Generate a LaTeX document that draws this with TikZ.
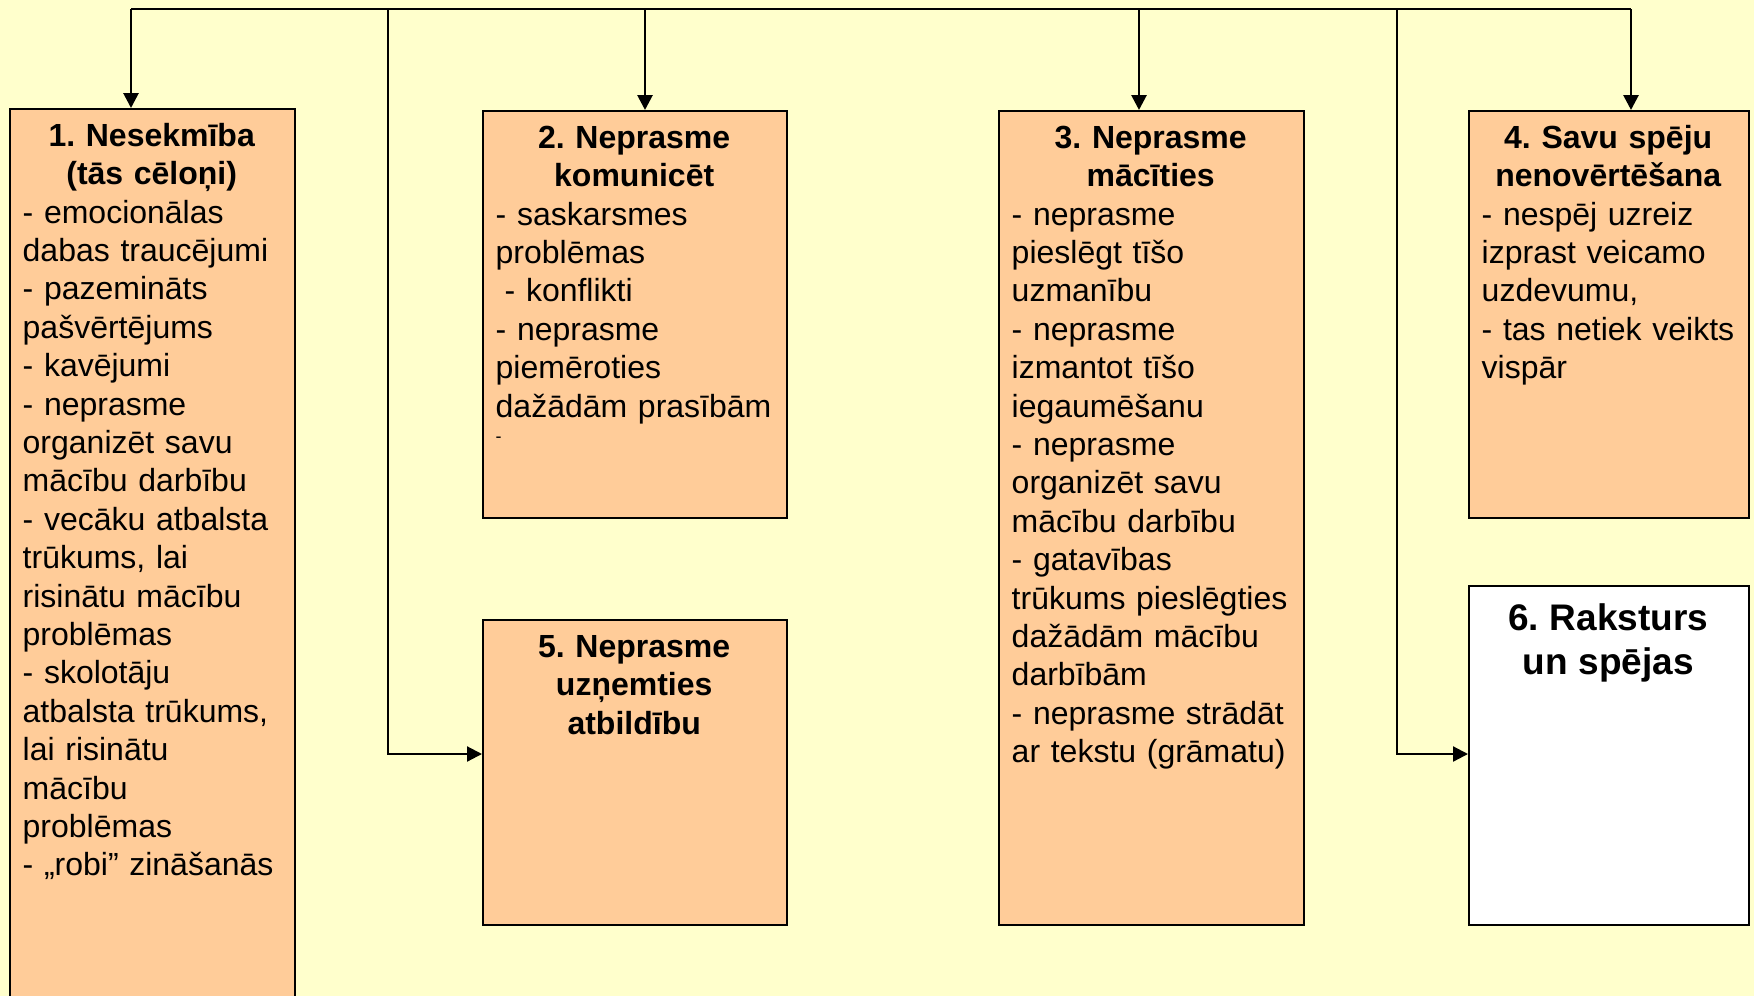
\documentclass[tikz,border=0pt]{standalone}
\usepackage{fontspec}
\setmainfont{Liberation Sans}
\usetikzlibrary{arrows.meta}
\definecolor{bgc}{HTML}{FFFFCC}
\definecolor{boxc}{HTML}{FFCC99}
\setlength{\parindent}{0pt}
\frenchspacing
\newcommand\boxtitle[1]{{\centering\bfseries\rule{0pt}{30pt}#1\par}}
\newcommand\bigtitle[1]{{\centering\bfseries\fontsize{37}{44.4}\selectfont\rule{0pt}{34pt}#1\par}}
\newcommand\bodyfont{\fontsize{32}{38.4}\selectfont}
\begin{document}
\begin{tikzpicture}[x=1pt,y=-1pt,
  box/.style={draw=black,line width=2pt,fill=boxc,rectangle,anchor=north west,inner sep=0pt},
  whitebox/.style={box,fill=white},
  txt/.style={anchor=north west,inner sep=0pt,font=\bodyfont},
  conn/.style={line width=2pt},
  arr/.style={line width=2.8pt,-{Triangle[length=15pt,width=15pt]}},
  feed/.style={line width=2.2pt,-{Triangle[length=15pt,width=15pt]}}]
\useasboundingbox (0,0) rectangle (1754,996);
\fill[bgc] (0,0) rectangle (1754,996);

% boxes
\node[box,minimum width=285pt,minimum height=900pt] (b1) at (9,108) {};
\node[box,minimum width=304pt,minimum height=407pt] (b2) at (482,110) {};
\node[box,minimum width=304pt,minimum height=305pt] (b5) at (482,619) {};
\node[box,minimum width=305pt,minimum height=814pt] (b3) at (998,110) {};
\node[box,minimum width=280pt,minimum height=407pt] (b4) at (1468,110) {};
\node[whitebox,minimum width=280pt,minimum height=339pt] (b6) at (1468,585) {};

% texts
\node[txt,text width=258pt] (t1) at ([shift={(13.5,8)}]b1.north west) {%
\boxtitle{1. Nesekmība\\(tās cēloņi)}%
\raggedright
- emocionālas\\
dabas traucējumi\\
- pazemināts\\
pašvērtējums\\
- kavējumi\\
- neprasme\\
organizēt savu\\
mācību darbību\\
- vecāku atbalsta\\
trūkums, lai\\
risinātu mācību\\
problēmas\\
- skolotāju\\
atbalsta trūkums,\\
lai risinātu\\
mācību\\
problēmas\\
- „robi” zināšanās\par};

\node[txt,text width=277pt] (t2) at ([shift={(13.5,8)}]b2.north west) {%
\boxtitle{2. Neprasme\\komunicēt}%
\raggedright
- saskarsmes\\
problēmas\\
\hspace*{9pt}- konflikti\\
- neprasme\\
piemēroties\\
dažādām prasībām\par
{\fontsize{18}{25}\selectfont -\par}};

\node[txt,text width=277pt] (t5) at ([shift={(13.5,8)}]b5.north west) {%
\boxtitle{5. Neprasme\\uzņemties\\atbildību}};

\node[txt,text width=278pt] (t3) at ([shift={(13.5,8)}]b3.north west) {%
\boxtitle{3. Neprasme\\mācīties}%
\raggedright
- neprasme\\
pieslēgt tīšo\\
uzmanību\\
- neprasme\\
izmantot tīšo\\
iegaumēšanu\\
- neprasme\\
organizēt savu\\
mācību darbību\\
- gatavības\\
trūkums pieslēgties\\
dažādām mācību\\
darbībām\\
- neprasme strādāt\\
ar tekstu (grāmatu)\par};

\node[txt,text width=253pt] (t4) at ([shift={(13.5,8)}]b4.north west) {%
\boxtitle{4. Savu spēju\\nenovērtēšana}%
\raggedright
- nespēj uzreiz\\
izprast veicamo\\
uzdevumu,\\
- tas netiek veikts\\
vispār\par};

\node[txt,text width=253pt] (t6) at ([shift={(13.5,11)}]b6.north west) {%
\bigtitle{6. Raksturs\\un spējas}};

% connectors
\coordinate (j1) at (131,9);
\coordinate (j2) at (645,9);
\coordinate (j3) at (1139,9);
\coordinate (j4) at (1631,9);
\coordinate (k5) at (388,9);
\coordinate (k6) at (1397,9);
\coordinate (m5) at (388,754);
\coordinate (m6) at (1397,754);

\draw[conn] (j1) -- (j4);
\draw[arr] (j1) -- (j1 |- b1.north);
\draw[arr] (j2) -- (j2 |- b2.north);
\draw[arr] (j3) -- (j3 |- b3.north);
\draw[arr] (j4) -- (j4 |- b4.north);
\draw[feed] (k5) -- (m5) -- (m5 -| b5.west);
\draw[feed] (k6) -- (m6) -- (m6 -| b6.west);
\end{tikzpicture}
\end{document}
